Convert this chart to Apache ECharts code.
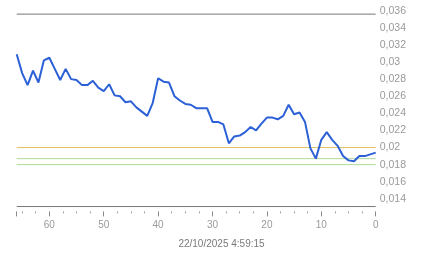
<!DOCTYPE html>
<html><head><meta charset="utf-8">
<script src="https://cdn.jsdelivr.net/npm/echarts@6/dist/echarts.min.js"></script>
<style>html,body{margin:0;padding:0;background:#fff}#c{width:443px;height:258px}</style>
</head><body><div id="c"></div>
<script>
const xUnits = [66,65,64,63,62,61,60,59,58,57,56,55,54,53,52,51,50,49,48,47,46,45,44,43,42,41,40,39,38,37,36,35,34,33,32,31,30,29,28,27,26,25,24,23,22,21,20,19,18,17,16,15,14,13,12,11,10,9,8,7,6,5,4,3,2,1,0];
const values = [0.0309,0.0287,0.0273,0.0290,0.0276,0.0302,0.0305,0.0292,0.0279,0.0292,0.0280,0.0279,0.0273,0.0273,0.0278,0.0270,0.0266,0.0274,0.0261,0.0260,0.0253,0.0254,0.0247,0.0242,0.0237,0.0252,0.0281,0.0277,0.0276,0.0260,0.0255,0.0251,0.0250,0.0246,0.0246,0.0246,0.0230,0.0230,0.0227,0.0205,0.0213,0.0214,0.0218,0.0224,0.0220,0.0228,0.0235,0.0235,0.0233,0.0237,0.0250,0.0239,0.0241,0.0230,0.0199,0.0187,0.0209,0.0218,0.0209,0.0202,0.0190,0.0185,0.0184,0.0190,0.0190,0.0192,0.0194];
const refLevels = [0.0200, 0.0187, 0.0180];
const frameLevels = [0.0356, 0.0131];
const timestamp = '22/10/2025 4:59:15';

const chart = echarts.init(document.getElementById('c'), null, {renderer:'canvas'});
const font = '"Liberation Sans", Arial, sans-serif';
const gridBox = {left:16.7,right:67.3,top:10.7,bottom:50.6,containLabel:false};
const levelSeries = (lv, color) => ({type:'line',z:1,silent:true,symbol:'none',showSymbol:false,
  data:[[66,lv],[0,lv]],lineStyle:{color:color,width:1},itemStyle:{color:color}});
chart.setOption({
  animation:false,
  backgroundColor:'#fff',
  title:{text:timestamp,left:'center',top:234,textStyle:{fontSize:10,color:'#7a7a7a',fontWeight:'normal',fontFamily:font}},
  grid:[Object.assign({},gridBox), Object.assign({},gridBox)],
  xAxis:[
    {gridIndex:0,type:'value',inverse:true,min:0,max:66,interval:10,offset:4,
     axisLine:{show:false},axisTick:{show:false},splitLine:{show:false},
     axisLabel:{margin:9,fontSize:10,fontFamily:font,
       color:function(v){return Math.round(v)%10===0?'#9a9a9a':'#ffffff';}}},
    {gridIndex:1,type:'value',inverse:true,min:0,max:66,interval:10,offset:4,
     axisLine:{show:true,onZero:false,lineStyle:{color:'#ffffff',width:1}},
     axisTick:{show:true,interval:0,length:5,lineStyle:{color:'#8a8a8a',width:1}},
     minorTick:{show:true,splitNumber:4,length:2,lineStyle:{color:'#a0a0a0',width:1}},
     splitLine:{show:false},axisLabel:{show:false}}
  ],
  yAxis:[
    {gridIndex:0,type:'value',position:'right',min:0.013,max:0.036,interval:0.001,
     axisLine:{show:false},axisTick:{show:false},splitLine:{show:false},
     axisLabel:{margin:4,fontSize:10.5,color:'#9a9a9a',fontFamily:font,
       formatter:function(v){const m=Math.round(v*1000);if(m%2)return '';return String(m/1000).replace('.',',');}}},
    {gridIndex:1,type:'value',min:0.013,max:0.036,show:false}
  ],
  series:[
    levelSeries(frameLevels[0],'#777'),
    levelSeries(frameLevels[1],'#777'),
    levelSeries(refLevels[0],'#e0c060'),
    levelSeries(refLevels[1],'#aedb98'),
    levelSeries(refLevels[2],'#aedb98'),
    {type:'line',z:3,data:xUnits.map((x,i)=>[x,values[i]]),showSymbol:false,symbol:'none',
     lineStyle:{color:'#2c60d6',width:2},itemStyle:{color:'#2c60d6'}}
  ]
});
</script></body></html>
